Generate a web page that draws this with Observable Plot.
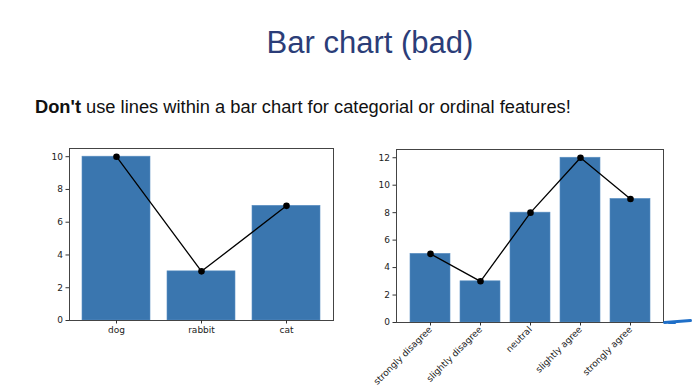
<!DOCTYPE html>
<html>
<head>
<meta charset="utf-8">
<script src="https://cdn.jsdelivr.net/npm/d3@7"></script>
<script src="https://cdn.jsdelivr.net/npm/@observablehq/plot@0.6"></script>
<style>
  html, body { margin: 0; padding: 0; background: #fff; }
  #page { position: relative; width: 700px; height: 390px; overflow: hidden; background: #fff; }
  #title { position: absolute; left: 0; width: 740px; top: 27px; text-align: center;
    font-family: "Liberation Sans", Arial, sans-serif; font-size: 31px; color: #2b3d78; line-height: 1; }
  #subtitle { position: absolute; left: 35px; top: 98px; font-family: "Liberation Sans", Arial, sans-serif;
    font-size: 18.3px; color: #111; line-height: 1; white-space: nowrap; }
  #left { position: absolute; left: 0; top: 140px; }
  #right { position: absolute; left: 350px; top: 140px; }
  #squiggle { position: absolute; left: 663px; top: 320px; width: 29px; height: 3px; background: #1f6fc8;
    border-radius: 2px; transform: rotate(-4deg); }
  #squiggle2 { position: absolute; left: 668px; top: 322px; width: 8px; height: 2px; background: #1f6fc8; border-radius: 1px; }
</style>
</head>
<body>
<div id="page">
  <div id="title">Bar chart (bad)</div>
  <div id="subtitle"><b>Don't</b> use lines within a bar chart for categorial or ordinal features!</div>
  <div id="left"></div>
  <div id="right"></div>
  <div id="squiggle"></div>
  <div id="squiggle2"></div>
</div>
<script>
const petCategories = ["dog", "rabbit", "cat"];
const petValues = [10, 3, 7];
const petTicks = [0, 2, 4, 6, 8, 10];

const likertCategories = ["strongly disagree", "slightly disagree", "neutral", "slightly agree", "strongly agree"];
const likertValues = [5, 3, 8, 12, 9];
const likertTicks = [0, 2, 4, 6, 8, 10, 12];

const barColor = "#3a76af";
const style = { fontFamily: "DejaVu Sans, sans-serif", fontSize: "9px", color: "#222", background: "transparent", overflow: "visible" };

function chart(categories, values, ticks, yMax, opts) {
  const data = categories.map((c, i) => ({ cat: c, v: values[i] }));
  return Plot.plot({
    width: opts.width,
    height: opts.height,
    marginLeft: opts.ml,
    marginRight: opts.mr,
    marginTop: opts.mt,
    marginBottom: opts.mb,
    style,
    x: { type: "band", domain: categories, paddingInner: 0.2, paddingOuter: opts.po, label: null },
    y: { domain: [0, yMax], label: null },
    marks: [
      Plot.barY(data, { x: "cat", y: "v", fill: barColor, stroke: "#5a8fc2", strokeWidth: 0.6 }),
      Plot.lineY(data, { x: "cat", y: "v", stroke: "#000", strokeWidth: 1.3 }),
      Plot.dot(data, { x: "cat", y: "v", fill: "#000", r: 3.3 }),
      Plot.frame({ stroke: "#444", strokeWidth: 1 }),
      Plot.axisY({ ticks, tickSize: 3.5, tickPadding: 3, label: null, stroke: "#333" }),
      opts.rotate
        ? Plot.axisX({ tickSize: 3.5, tickPadding: 2, tickRotate: -45, label: null, stroke: "#333" })
        : Plot.axisX({ tickSize: 3.5, tickPadding: 3, label: null, stroke: "#333" })
    ]
  });
}

document.getElementById("left").appendChild(
  chart(petCategories, petValues, petTicks, 10.5,
    { width: 340, height: 200, ml: 69, mr: 7, mt: 8, mb: 20, po: 0.14, rotate: false })
);
document.getElementById("right").appendChild(
  chart(likertCategories, likertValues, likertTicks, 12.6,
    { width: 350, height: 250, ml: 46, mr: 37, mt: 9, mb: 68, po: 0.24, rotate: true })
);
</script>
</body>
</html>
